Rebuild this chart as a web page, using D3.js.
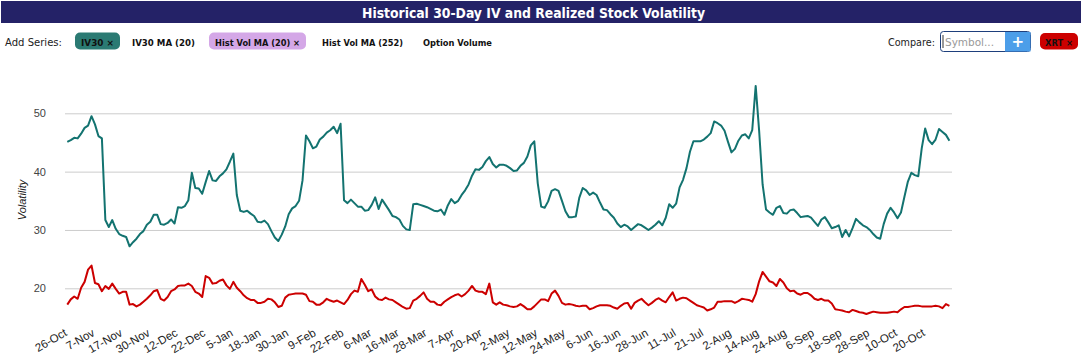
<!DOCTYPE html>
<html><head><meta charset="utf-8">
<script src="https://cdn.jsdelivr.net/npm/d3@7"></script>
<style>
body{margin:0;background:#fff;}
svg{display:block;}
</style>
</head><body>
<svg id="c" width="1082" height="358"></svg>
<script>
const title = "Historical 30-Day IV and Realized Stock Volatility";
const seriesButtons = ["IV30", "IV30 MA (20)", "Hist Vol MA (20)", "Hist Vol MA (252)", "Option Volume"];
const seriesActive = [true, false, true, false, false];
const compareSymbols = ["XRT"];
const tickLabels = ["26-Oct","7-Nov","17-Nov","30-Nov","12-Dec","22-Dec","5-Jan","18-Jan","30-Jan","9-Feb","22-Feb","6-Mar","16-Mar","28-Mar","7-Apr","20-Apr","2-May","12-May","24-May","6-Jun","16-Jun","28-Jun","11-Jul","21-Jul","2-Aug","14-Aug","24-Aug","6-Sep","18-Sep","28-Sep","10-Oct","20-Oct"];
const yTicks = [20, 30, 40, 50];
const iv30 = [
45.1,45.4,45.8,45.7,46.5,47.5,47.9,49.5,48.1,46.1,
45.7,31.7,30.5,31.7,30.2,29.3,29.0,28.8,27.2,27.9,
28.5,29.3,29.8,30.9,31.4,32.6,32.6,31.0,30.9,31.2,
31.8,31.1,33.9,33.8,34.1,35.1,39.8,37.2,37.1,36.2,
38.2,40.1,38.5,38.4,39.2,39.7,40.4,41.7,43.1,36.0,
33.3,33.1,33.3,32.8,32.4,31.4,31.3,31.6,31.0,29.8,
28.7,28.1,29.2,30.6,32.7,33.7,34.1,35.0,38.5,46.2,
45.2,44.0,44.3,45.5,46.0,46.7,47.1,47.7,46.6,48.2,
35.1,34.6,35.2,34.6,34.0,34.0,33.3,33.4,34.3,35.6,
33.6,35.2,34.3,33.4,32.4,32.2,31.8,30.7,30.1,30.0,
34.4,34.5,34.3,34.1,33.9,33.6,33.3,33.2,33.5,32.6,
34.2,35.3,34.6,35.0,36.0,36.8,37.8,39.3,40.4,40.3,
40.8,41.8,42.5,41.3,40.7,41.2,41.2,41.0,40.6,40.1,
40.2,41.0,41.5,42.6,44.5,45.2,38.0,34.0,33.8,34.9,
36.7,37.0,36.7,35.0,33.2,32.2,32.2,32.3,35.5,37.2,
36.8,36.0,36.4,36.0,34.7,33.5,33.4,32.7,32.1,31.1,
30.5,30.9,30.6,30.0,30.5,31.0,30.8,30.4,30.0,30.4,
30.9,31.5,30.8,32.1,34.4,33.8,34.5,37.3,38.6,40.6,
43.4,45.2,45.2,45.2,45.5,46.0,46.6,48.6,48.3,47.9,
47.0,45.1,43.3,43.9,45.3,46.2,46.4,45.7,47.1,54.7,
47.0,37.8,33.5,33.0,32.6,33.8,34.1,32.9,32.8,33.4,
33.5,32.9,32.2,32.3,32.4,32.1,31.4,30.7,31.8,32.2,
31.3,30.3,30.5,30.8,28.8,30.0,28.9,30.3,31.9,31.3,
30.8,30.5,30.0,29.3,28.7,28.5,31.0,32.8,33.8,33.0,
32.0,33.0,35.7,38.3,39.8,39.4,39.2,44.0,47.4,45.4,
44.7,45.5,47.3,46.8,46.3,45.3];
const xrtHV = [
17.2,18.1,18.6,18.2,20.1,21.1,23.2,23.9,20.9,20.7,
19.5,20.4,19.9,20.8,19.9,19.1,19.4,19.4,17.2,17.3,
16.9,17.2,17.7,18.2,18.8,19.5,19.7,18.2,17.9,18.5,
19.5,19.8,20.4,20.5,20.5,20.8,20.4,19.4,19.1,18.5,
22.1,21.8,20.8,20.9,21.3,21.5,20.5,19.9,21.1,20.1,
19.5,18.8,18.3,18.0,18.0,17.5,17.5,17.7,18.2,18.1,
17.6,16.8,17.0,18.4,18.9,19.0,19.1,19.1,19.1,18.9,
17.8,17.7,17.2,17.2,17.6,18.2,17.9,17.7,17.9,17.6,
17.3,18.0,19.0,19.6,19.4,21.6,20.6,19.5,19.8,18.6,
18.1,18.0,18.4,18.1,18.0,17.6,17.2,16.8,16.5,16.6,
17.9,18.2,18.7,19.3,18.2,17.7,17.7,17.2,17.1,17.7,
18.1,18.5,18.8,19.0,18.6,19.0,19.6,20.4,19.6,19.4,
19.4,19.0,20.8,17.6,17.2,17.6,17.2,17.1,16.9,16.8,
16.9,17.3,16.9,16.4,16.4,16.9,17.5,18.1,18.1,17.8,
19.1,19.6,18.7,17.5,17.2,17.3,17.2,17.0,16.9,17.0,
17.0,16.4,16.6,16.9,17.1,17.1,17.1,17.0,16.7,16.5,
17.0,17.4,17.5,16.5,17.5,17.9,18.2,17.6,17.1,17.5,
18.0,18.3,17.9,17.6,18.5,19.3,17.9,18.2,18.4,18.3,
17.9,17.5,17.1,16.9,16.7,16.2,16.4,16.7,17.7,17.7,
17.8,17.8,17.8,17.5,17.8,18.2,18.1,18.0,17.7,19.0,
21.2,22.8,22.0,21.2,21.0,20.4,21.6,21.0,20.0,19.5,
19.6,19.1,18.9,19.2,19.2,18.8,18.2,18.0,18.2,17.9,
17.9,17.4,16.4,16.3,16.2,16.0,15.9,16.3,16.1,15.9,
15.8,15.6,15.8,16.0,15.9,15.8,15.8,15.8,15.9,16.0,
15.9,16.4,16.8,16.8,16.9,17.0,17.0,16.9,16.9,16.9,
16.9,17.0,16.9,16.6,17.3,17.0];

const svg = d3.select("#c");
const W = 1082;

// fit a text element to a target width by scaling its font size
function fit(sel, target) {
  const node = sel.node();
  const w = node.getComputedTextLength();
  const fs = parseFloat(sel.attr("font-size"));
  if (w > 0) sel.attr("font-size", (fs * target / w).toFixed(2));
  return sel;
}

// Title bar
svg.append("rect").attr("x", 1).attr("y", 1).attr("width", W - 2).attr("height", 22).attr("fill", "#242267");
fit(svg.append("text").attr("x", 533.5).attr("y", 17.5).attr("text-anchor", "middle")
  .attr("font-family", "DejaVu Sans Condensed, DejaVu Sans, sans-serif").attr("font-weight", "bold")
  .attr("font-size", 14).attr("fill", "#fff").text(title), 343);

// Controls row
const ctrlFont = "DejaVu Sans, Verdana, sans-serif";
fit(svg.append("text").attr("x", 5).attr("y", 46).attr("font-family", ctrlFont).attr("font-size", 11)
  .attr("fill", "#222").text("Add Series:"), 57);

const btnX = [75, 132, 209, 322, 423];
const btnTextW = [33, 63, 85, 81, 69];
const btnFill = ["#2b7a73", null, "#d4a7e7", null, null];
seriesButtons.forEach((name, i) => {
  const active = seriesActive[i];
  if (active) {
    svg.append("rect").attr("x", btnX[i]).attr("y", 32.5).attr("width", btnTextW[i] + 12)
      .attr("height", 17).attr("rx", 5).attr("fill", btnFill[i]);
  }
  fit(svg.append("text").attr("x", btnX[i] + (active ? 6 : 0)).attr("y", 45.5)
    .attr("font-family", ctrlFont).attr("font-weight", "bold").attr("font-size", 10.5)
    .attr("fill", "#111").text(active ? name + " \u00d7" : name), btnTextW[i]);
});

// Compare
fit(svg.append("text").attr("x", 888).attr("y", 46).attr("font-family", ctrlFont).attr("font-size", 11)
  .attr("fill", "#222").text("Compare:"), 47);
svg.append("rect").attr("x", 940.5).attr("y", 31.5).attr("width", 90).attr("height", 20).attr("rx", 3)
  .attr("fill", "#fff").attr("stroke", "#1e3f7c");
svg.append("rect").attr("x", 1005).attr("y", 32).attr("width", 25.5).attr("height", 19.5)
  .attr("fill", "#4c9ee9");
svg.append("text").attr("x", 1017.7).attr("y", 47).attr("text-anchor", "middle").attr("font-family", ctrlFont)
  .attr("font-weight", "bold").attr("font-size", 15).attr("fill", "#fff").text("+");
svg.append("line").attr("x1", 943).attr("x2", 943).attr("y1", 35).attr("y2", 48).attr("stroke", "#333");
fit(svg.append("text").attr("x", 945).attr("y", 46).attr("font-family", ctrlFont).attr("font-size", 11)
  .attr("fill", "#999").text("Symbol..."), 49);
compareSymbols.forEach((s, i) => {
  svg.append("rect").attr("x", 1040).attr("y", 33).attr("width", 38).attr("height", 16.5).attr("rx", 5)
    .attr("fill", "#cc0000");
  fit(svg.append("text").attr("x", 1045).attr("y", 45.5).attr("font-family", ctrlFont).attr("font-weight", "bold")
    .attr("font-size", 10.5).attr("fill", "#111").text(s + " \u00d7"), 28);
});

// Chart
const N = iv30.length;
const x = d3.scaleLinear().domain([0, N - 1]).range([67.3, 949.4]);
const y = d3.scaleLinear().domain([20, 50]).range([288.3, 113.3]);

const gy = svg.append("g").attr("transform", "translate(65,0)")
  .call(d3.axisLeft(y).tickValues(yTicks).tickSize(-887).tickPadding(19).tickFormat(d3.format("d")));
gy.select(".domain").remove();
gy.selectAll(".tick line").attr("stroke", "#ccc");
gy.selectAll(".tick text").attr("font-family", "Liberation Sans, Arial, sans-serif").attr("font-size", 11)
  .attr("fill", "#444");

const gx = svg.append("g").attr("transform", "translate(0,335)")
  .call(d3.axisBottom(x).tickValues(d3.range(0, tickLabels.length).map(k => k * 8))
    .tickFormat(v => tickLabels[v / 8]).tickSize(0));
gx.select(".domain").remove();
gx.selectAll(".tick text").attr("y", 0).attr("dy", 0).attr("text-anchor", "end")
  .attr("transform", "rotate(-30)")
  .attr("font-family", "Liberation Sans, Arial, sans-serif").attr("font-size", 11.5).attr("fill", "#222");

svg.append("text").attr("transform", "translate(26,200) rotate(-90)").attr("text-anchor", "middle")
  .attr("font-family", "Liberation Sans, Arial, sans-serif").attr("font-style", "italic").attr("font-size", 11)
  .attr("fill", "#222").text("Volatility");

const line = d3.line().x((d, i) => x(i)).y(d => y(d));
svg.append("path").datum(xrtHV).attr("d", line).attr("fill", "none").attr("stroke", "#cc0000")
  .attr("stroke-width", 2).attr("stroke-linejoin", "round");
svg.append("path").datum(iv30).attr("d", line).attr("fill", "none").attr("stroke", "#137370")
  .attr("stroke-width", 2).attr("stroke-linejoin", "round");
</script>
</body></html>
